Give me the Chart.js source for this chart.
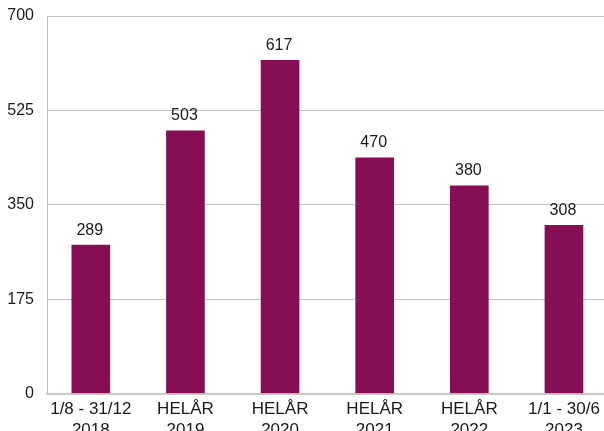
<!DOCTYPE html>
<html>
<head>
<meta charset="utf-8">
<script src="https://cdn.jsdelivr.net/npm/chart.js@4/dist/chart.umd.min.js"></script>
<style>
  html, body { margin: 0; padding: 0; background: #ffffff; overflow: hidden; width: 604px; height: 431px; }
  #wrap { position: absolute; left: 0; top: 0; width: 616px; height: 440px; }
</style>
</head>
<body>
<div id="wrap"><canvas id="c" width="616" height="440"></canvas></div>
<script>
// Category labels (two lines each)
const categories = [
  ['1/8 - 31/12', '2018'],
  ['HELÅR', '2019'],
  ['HELÅR', '2020'],
  ['HELÅR', '2021'],
  ['HELÅR', '2022'],
  ['1/1 - 30/6', '2023']
];
// Bar heights as drawn in the picture
const values = [275, 487, 618, 437, 385, 312];
// Numbers printed above the bars
const valueLabels = ['289', '503', '617', '470', '380', '308'];
// Y-axis ticks
const yTicks = [0, 175, 350, 525, 700];

const FONT = "'Liberation Sans', Arial, Helvetica, sans-serif";
const TEXT = '#1a1a1a';
const BAR = '#860e55';

const barLabels = {
  id: 'barLabels',
  afterDatasetsDraw(chart) {
    const ctx = chart.ctx;
    const meta = chart.getDatasetMeta(0);
    ctx.save();
    ctx.font = '16px ' + FONT;
    ctx.fillStyle = TEXT;
    ctx.textAlign = 'center';
    ctx.textBaseline = 'alphabetic';
    meta.data.forEach((el, i) => {
      ctx.fillText(valueLabels[i], el.x - 1, el.y - 10.5);
    });
    ctx.restore();
  }
};

new Chart(document.getElementById('c'), {
  type: 'bar',
  data: {
    datasets: [{
      data: values.map((v, i) => ({ x: i, y: v })),
      backgroundColor: BAR,
      borderWidth: 0,
      barThickness: 38
    }]
  },
  options: {
    responsive: false,
    animation: false,
    layout: { padding: { top: 16, left: 0, right: 0, bottom: 0 } },
    plugins: { legend: { display: false }, tooltip: { enabled: false } },
    scales: {
      x: {
        type: 'linear',
        bounds: 'data',
        offset: false,
        min: -0.463,
        max: 5.55,
        afterBuildTicks: s => { s.ticks = categories.map((_, i) => ({ value: i })); },
        afterFit: s => { s.height = 46.5; },
        grid: { display: false, drawTicks: false },
        border: { display: true, color: '#c8c8c8', width: 2 },
        ticks: {
          includeBounds: false,
          autoSkip: false,
          maxRotation: 0,
          padding: 5,
          color: TEXT,
          font: { family: FONT, size: 17, lineHeight: 1.24 },
          callback: v => categories[v]
        }
      },
      y: {
        min: 0,
        max: 700,
        afterBuildTicks: s => { s.ticks = yTicks.map(v => ({ value: v })); },
        afterFit: s => { s.width = 47; },
        grid: { color: '#c4c4c4', lineWidth: 1, drawTicks: true, tickLength: 13, tickColor: 'rgba(0,0,0,0)' },
        border: { display: true, color: '#bdbdbd', width: 1 },
        ticks: {
          padding: 0,
          color: TEXT,
          font: { family: FONT, size: 16 }
        }
      }
    }
  },
  plugins: [barLabels]
});
</script>
</body>
</html>
